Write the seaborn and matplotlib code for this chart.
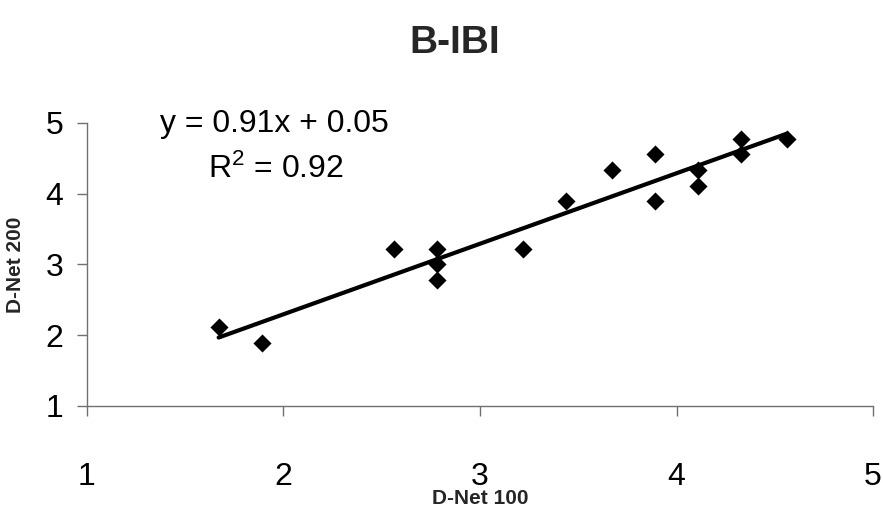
import matplotlib
matplotlib.use("Agg")
import matplotlib.pyplot as plt
import seaborn as sns
import pandas as pd

# Data
dnet100 = [1.67, 1.89, 2.56, 2.78, 2.78, 2.78, 3.22, 3.44, 3.67, 3.89, 3.89, 4.11, 4.11, 4.33, 4.33, 4.56]
dnet200 = [2.11, 1.89, 3.22, 3.22, 3.00, 2.78, 3.22, 3.89, 4.33, 3.89, 4.56, 4.33, 4.11, 4.56, 4.78, 4.78]
ticks = [1, 2, 3, 4, 5]
title = "B-IBI"
xlabel = "D-Net 100"
ylabel = "D-Net 200"
equation = "y = 0.91x + 0.05"
r2_text = "R$^2$ = 0.92"

df = pd.DataFrame({"x": dnet100, "y": dnet200})

sns.set_theme(style="white")
plt.rcParams["font.family"] = ["Liberation Sans", "DejaVu Sans"]
plt.rcParams["mathtext.fontset"] = "custom"
plt.rcParams["mathtext.rm"] = "Liberation Sans"
plt.rcParams["mathtext.it"] = "Liberation Sans"

fig = plt.figure(figsize=(8.83, 5.08), dpi=100)
ax = fig.add_axes([0.0985, 0.2008, 0.8902, 0.5572])

sns.regplot(data=df, x="x", y="y", ax=ax, ci=None, truncate=True, marker="D",
            scatter_kws=dict(s=85, color="black", alpha=1, linewidths=0, zorder=3),
            line_kws=dict(color="black", lw=3.0, zorder=2))

ax.set_xlim(1, 5)
ax.set_ylim(1, 5)
ax.set_xticks(ticks)
ax.set_yticks(ticks)
ax.set_xticklabels([str(t) for t in ticks])
ax.set_yticklabels([str(t) for t in ticks])

for side in ["top", "right"]:
    ax.spines[side].set_visible(False)
for side in ["left", "bottom"]:
    ax.spines[side].set_color("#707070")
    ax.spines[side].set_linewidth(1.0)

ax.tick_params(axis="both", which="major", direction="out", length=7, width=1.0,
               color="#707070", labelsize=23, labelcolor="black")
ax.tick_params(axis="x", pad=33)
ax.tick_params(axis="y", pad=10)
ax.tick_params(bottom=True, left=True)

ax.set_xlabel(xlabel, fontsize=15, fontweight="bold")
ax.set_ylabel(ylabel, fontsize=15, fontweight="bold")
ax.xaxis.set_label_coords(0.5, -0.292)
ax.yaxis.set_label_coords(-0.079, 0.5)

ax.text(0.238, 0.995, equation, transform=ax.transAxes, ha="center", va="center",
        fontsize=23, color="black")
ax.text(0.240, 0.835, r2_text, transform=ax.transAxes, ha="center", va="center",
        fontsize=23, color="black")

fig.text(0.515, 0.915, title, ha="center", va="center", fontsize=28, fontweight="bold")

fig.savefig("out.png", dpi=100, facecolor="white")
